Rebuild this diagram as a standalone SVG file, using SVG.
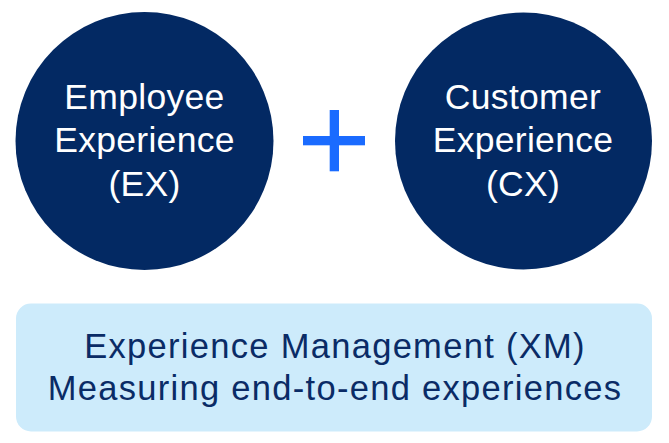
<svg xmlns="http://www.w3.org/2000/svg" width="669" height="443" viewBox="0 0 669 443">
<style>
.circ{fill:#032963}
.ct{fill:#ffffff;font-family:"Liberation Sans",Arial,sans-serif;font-size:35.5px;letter-spacing:0.3px;text-anchor:middle}
.bt{fill:#0a2b66;font-family:"Liberation Sans",Arial,sans-serif;font-size:34.5px;letter-spacing:1.3px;text-anchor:middle}
.plus{fill:#1a6bff}
</style>
<rect width="669" height="443" fill="#ffffff"/>
<g id="ex">
<circle class="circ" cx="144.5" cy="141" r="129"/>
<text class="ct" x="144.5" y="108.5">Employee</text>
<text class="ct" x="144.5" y="152">Experience</text>
<text class="ct" x="144.5" y="195.5">(EX)</text>
</g>
<g id="plus">
<rect class="plus" x="303" y="136" width="62" height="9.3"/>
<rect class="plus" x="329.7" y="110" width="9.3" height="61.3"/>
</g>
<g id="cx">
<circle class="circ" cx="523.5" cy="141" r="128.5"/>
<text class="ct" x="523" y="108.5">Customer</text>
<text class="ct" x="523" y="152">Experience</text>
<text class="ct" x="523" y="195.5">(CX)</text>
</g>
<g id="xm">
<rect x="16" y="303.5" width="636" height="128" rx="15" fill="#cdebfb"/>
<text class="bt" x="335" y="357.5">Experience Management (XM)</text>
<text class="bt" x="335" y="400">Measuring end-to-end experiences</text>
</g>
<g id="connectors"></g>
</svg>
